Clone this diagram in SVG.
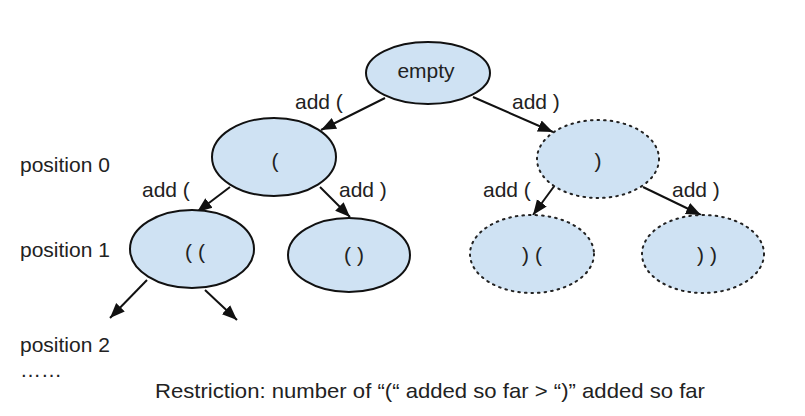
<svg xmlns="http://www.w3.org/2000/svg" width="805" height="416" viewBox="0 0 805 416">
<defs>
<style>
.t{font-family:"Liberation Sans",Arial,sans-serif;font-size:21px;fill:#222}
.m{text-anchor:middle}
.n{fill:#cfe2f3;stroke:#111;stroke-width:2}
.d{fill:#cfe2f3;stroke:#222;stroke-width:2;stroke-dasharray:1.6 5;stroke-linecap:round}
.e{stroke:#111;stroke-width:2;fill:none;marker-end:url(#ah)}
</style>
<marker id="ah" markerUnits="userSpaceOnUse" markerWidth="16" markerHeight="14" viewBox="0 0 16 14" refX="15" refY="7" orient="auto">
<path d="M0,1 L15,7 L0,13 Z" fill="#111"/>
</marker>
</defs>
<rect width="805" height="416" fill="#fff"/>
<g id="connectors">
<line class="e" x1="385" y1="98" x2="321" y2="130"/>
<line class="e" x1="473" y1="97" x2="553" y2="132"/>
<line class="e" x1="230" y1="187" x2="197" y2="212"/>
<line class="e" x1="320" y1="187" x2="350" y2="217"/>
<line class="e" x1="147" y1="280" x2="110" y2="318"/>
<line class="e" x1="205" y1="290" x2="237" y2="320"/>
<line class="e" x1="555" y1="185" x2="533" y2="215"/>
<line class="e" x1="643" y1="187" x2="701" y2="215"/>
</g>
<g id="edge-labels">
<text class="t" x="295" y="109">add (</text>
<text class="t" x="512" y="109">add )</text>
<text class="t" x="142" y="197">add (</text>
<text class="t" x="339" y="197">add )</text>
<text class="t" x="483" y="197">add (</text>
<text class="t" x="672" y="197">add )</text>
</g>
<g id="node-empty"><ellipse class="n" cx="428" cy="73" rx="62" ry="31"/><text class="t m" x="426" y="78">empty</text></g>
<g id="node-open"><ellipse class="n" cx="274" cy="157" rx="62" ry="39"/><text class="t m" x="275" y="168">(</text></g>
<g id="node-close"><ellipse class="d" cx="598" cy="159" rx="61" ry="39"/><text class="t m" x="598" y="168">)</text></g>
<g id="node-open-open"><ellipse class="n" cx="192" cy="249" rx="62" ry="39"/><text class="t m" x="195" y="259">( (</text></g>
<g id="node-open-close"><ellipse class="n" cx="349" cy="255" rx="61" ry="37"/><text class="t m" x="354" y="262">( )</text></g>
<g id="node-close-open"><ellipse class="d" cx="532" cy="254" rx="62" ry="39"/><text class="t m" x="532" y="262">) (</text></g>
<g id="node-close-close"><ellipse class="d" cx="703" cy="254" rx="61" ry="39"/><text class="t m" x="707" y="262">) )</text></g>
<g id="labels">
<text class="t" x="20" y="172">position 0</text>
<text class="t" x="20" y="257">position 1</text>
<text class="t" x="20" y="352">position 2</text>
<text class="t" x="20" y="377">……</text>
<text class="t" x="155" y="398" textLength="550" lengthAdjust="spacingAndGlyphs">Restriction: number of “(“ added so far &gt; “)” added so far</text>
</g>
</svg>
